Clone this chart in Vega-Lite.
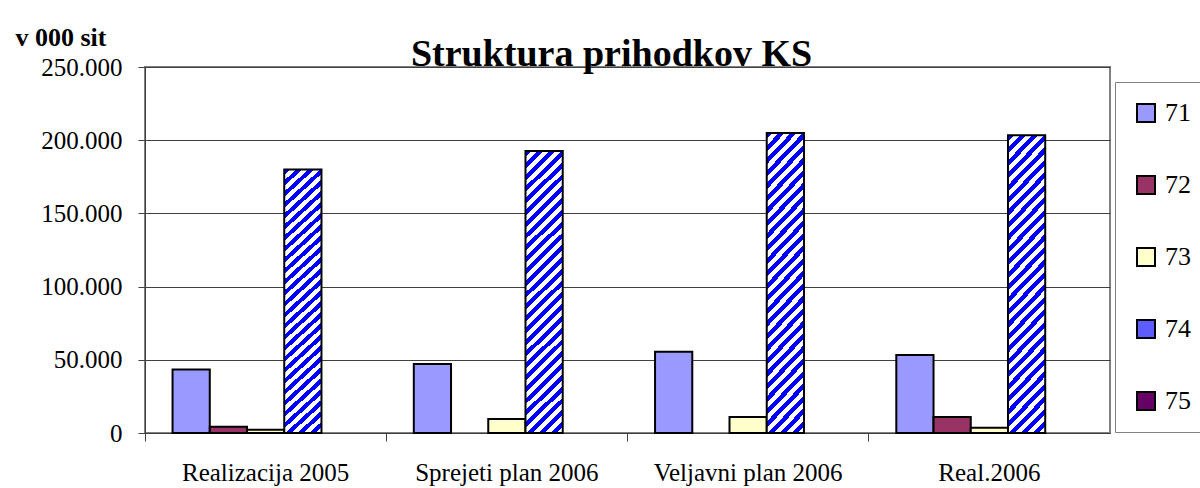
{
  "$schema": "https://vega.github.io/schema/vega-lite/v6.json",
  "width": 965,
  "height": 366,
  "autosize": {"type": "none"},
  "padding": {"left": 145, "top": 67, "right": 90, "bottom": 55},
  "background": "white",
  "title": {
    "text": "Struktura prihodkov KS",
    "font": "Liberation Serif",
    "fontSize": 38,
    "fontWeight": "bold",
    "color": "black",
    "anchor": "middle",
    "frame": "group",
    "baseline": "alphabetic",
    "offset": 0,
    "dx": -16,
    "dy": 80
  },
  "data": {
    "values": [
      {"kategorija": "Realizacija 2005", "konto": "71", "vrednost": 43300},
      {"kategorija": "Realizacija 2005", "konto": "72", "vrednost": 4300},
      {"kategorija": "Realizacija 2005", "konto": "73", "vrednost": 2200},
      {"kategorija": "Realizacija 2005", "konto": "74", "vrednost": 180000},
      {"kategorija": "Sprejeti plan 2006", "konto": "71", "vrednost": 47100},
      {"kategorija": "Sprejeti plan 2006", "konto": "73", "vrednost": 9600},
      {"kategorija": "Sprejeti plan 2006", "konto": "74", "vrednost": 192600},
      {"kategorija": "Veljavni plan 2006", "konto": "71", "vrednost": 55500},
      {"kategorija": "Veljavni plan 2006", "konto": "73", "vrednost": 10900},
      {"kategorija": "Veljavni plan 2006", "konto": "74", "vrednost": 204900},
      {"kategorija": "Real.2006", "konto": "71", "vrednost": 53300},
      {"kategorija": "Real.2006", "konto": "72", "vrednost": 10900},
      {"kategorija": "Real.2006", "konto": "73", "vrednost": 3600},
      {"kategorija": "Real.2006", "konto": "74", "vrednost": 203300}
    ]
  },
  "mark": {"type": "bar", "stroke": "black", "strokeWidth": 2},
  "encoding": {
    "x": {
      "field": "kategorija",
      "type": "nominal",
      "sort": ["Realizacija 2005", "Sprejeti plan 2006", "Veljavni plan 2006", "Real.2006"],
      "scale": {"paddingInner": 0, "paddingOuter": 0},
      "axis": {
        "title": null,
        "labelAngle": 0,
        "labelFont": "Liberation Serif",
        "labelFontSize": 25,
        "labelColor": "black",
        "labelPadding": 19,
        "labelLimit": 400,
        "tickSize": 8,
        "tickColor": "#404040",
        "domainColor": "#404040",
        "bandPosition": 0,
        "grid": false
      }
    },
    "xOffset": {
      "field": "konto",
      "type": "nominal",
      "scale": {"domain": ["71", "72", "73", "74", "75"], "paddingInner": 0, "paddingOuter": 0.74}
    },
    "y": {
      "field": "vrednost",
      "type": "quantitative",
      "scale": {"domain": [0, 250000], "nice": false},
      "axis": {
        "title": "v 000 sit",
        "titleAngle": 0,
        "titleAlign": "left",
        "titleBaseline": "alphabetic",
        "titleX": -130,
        "titleY": -22,
        "titleFont": "Liberation Serif",
        "titleFontSize": 26,
        "titleFontWeight": "bold",
        "titleColor": "black",
        "values": [0, 50000, 100000, 150000, 200000, 250000],
        "labelExpr": "replace(format(datum.value, ','), ',', '.')",
        "labelFont": "Liberation Serif",
        "labelFontSize": 25,
        "labelColor": "black",
        "labelPadding": 16,
        "tickSize": 7,
        "tickColor": "#404040",
        "domainColor": "#404040",
        "grid": true,
        "gridColor": "#404040",
        "gridWidth": 1
      }
    },
    "fill": {
      "field": "konto",
      "type": "nominal",
      "scale": {
        "domain": ["71", "72", "73", "74", "75"],
        "range": ["#9999FF", "#993366", "#FFFFCC", "#5C5CFF", "#660066"]
      },
      "condition": {
        "test": "datum.konto === '74'",
        "value": {
          "gradient": "linear",
          "x1": 0, "y1": 0, "x2": 0.144, "y2": 1.11,
          "stops": [
            {"offset": 0, "color": "#0000FF"}, {"offset": 0.0185, "color": "#0000FF"}, {"offset": 0.0185, "color": "#FFFFFF"}, {"offset": 0.0370, "color": "#FFFFFF"},
            {"offset": 0.0370, "color": "#0000FF"}, {"offset": 0.0556, "color": "#0000FF"}, {"offset": 0.0556, "color": "#FFFFFF"}, {"offset": 0.0741, "color": "#FFFFFF"},
            {"offset": 0.0741, "color": "#0000FF"}, {"offset": 0.0926, "color": "#0000FF"}, {"offset": 0.0926, "color": "#FFFFFF"}, {"offset": 0.1111, "color": "#FFFFFF"},
            {"offset": 0.1111, "color": "#0000FF"}, {"offset": 0.1296, "color": "#0000FF"}, {"offset": 0.1296, "color": "#FFFFFF"}, {"offset": 0.1481, "color": "#FFFFFF"},
            {"offset": 0.1481, "color": "#0000FF"}, {"offset": 0.1667, "color": "#0000FF"}, {"offset": 0.1667, "color": "#FFFFFF"}, {"offset": 0.1852, "color": "#FFFFFF"},
            {"offset": 0.1852, "color": "#0000FF"}, {"offset": 0.2037, "color": "#0000FF"}, {"offset": 0.2037, "color": "#FFFFFF"}, {"offset": 0.2222, "color": "#FFFFFF"},
            {"offset": 0.2222, "color": "#0000FF"}, {"offset": 0.2407, "color": "#0000FF"}, {"offset": 0.2407, "color": "#FFFFFF"}, {"offset": 0.2593, "color": "#FFFFFF"},
            {"offset": 0.2593, "color": "#0000FF"}, {"offset": 0.2778, "color": "#0000FF"}, {"offset": 0.2778, "color": "#FFFFFF"}, {"offset": 0.2963, "color": "#FFFFFF"},
            {"offset": 0.2963, "color": "#0000FF"}, {"offset": 0.3148, "color": "#0000FF"}, {"offset": 0.3148, "color": "#FFFFFF"}, {"offset": 0.3333, "color": "#FFFFFF"},
            {"offset": 0.3333, "color": "#0000FF"}, {"offset": 0.3519, "color": "#0000FF"}, {"offset": 0.3519, "color": "#FFFFFF"}, {"offset": 0.3704, "color": "#FFFFFF"},
            {"offset": 0.3704, "color": "#0000FF"}, {"offset": 0.3889, "color": "#0000FF"}, {"offset": 0.3889, "color": "#FFFFFF"}, {"offset": 0.4074, "color": "#FFFFFF"},
            {"offset": 0.4074, "color": "#0000FF"}, {"offset": 0.4259, "color": "#0000FF"}, {"offset": 0.4259, "color": "#FFFFFF"}, {"offset": 0.4444, "color": "#FFFFFF"},
            {"offset": 0.4444, "color": "#0000FF"}, {"offset": 0.4630, "color": "#0000FF"}, {"offset": 0.4630, "color": "#FFFFFF"}, {"offset": 0.4815, "color": "#FFFFFF"},
            {"offset": 0.4815, "color": "#0000FF"}, {"offset": 0.5000, "color": "#0000FF"}, {"offset": 0.5000, "color": "#FFFFFF"}, {"offset": 0.5185, "color": "#FFFFFF"},
            {"offset": 0.5185, "color": "#0000FF"}, {"offset": 0.5370, "color": "#0000FF"}, {"offset": 0.5370, "color": "#FFFFFF"}, {"offset": 0.5556, "color": "#FFFFFF"},
            {"offset": 0.5556, "color": "#0000FF"}, {"offset": 0.5741, "color": "#0000FF"}, {"offset": 0.5741, "color": "#FFFFFF"}, {"offset": 0.5926, "color": "#FFFFFF"},
            {"offset": 0.5926, "color": "#0000FF"}, {"offset": 0.6111, "color": "#0000FF"}, {"offset": 0.6111, "color": "#FFFFFF"}, {"offset": 0.6296, "color": "#FFFFFF"},
            {"offset": 0.6296, "color": "#0000FF"}, {"offset": 0.6481, "color": "#0000FF"}, {"offset": 0.6481, "color": "#FFFFFF"}, {"offset": 0.6667, "color": "#FFFFFF"},
            {"offset": 0.6667, "color": "#0000FF"}, {"offset": 0.6852, "color": "#0000FF"}, {"offset": 0.6852, "color": "#FFFFFF"}, {"offset": 0.7037, "color": "#FFFFFF"},
            {"offset": 0.7037, "color": "#0000FF"}, {"offset": 0.7222, "color": "#0000FF"}, {"offset": 0.7222, "color": "#FFFFFF"}, {"offset": 0.7407, "color": "#FFFFFF"},
            {"offset": 0.7407, "color": "#0000FF"}, {"offset": 0.7593, "color": "#0000FF"}, {"offset": 0.7593, "color": "#FFFFFF"}, {"offset": 0.7778, "color": "#FFFFFF"},
            {"offset": 0.7778, "color": "#0000FF"}, {"offset": 0.7963, "color": "#0000FF"}, {"offset": 0.7963, "color": "#FFFFFF"}, {"offset": 0.8148, "color": "#FFFFFF"},
            {"offset": 0.8148, "color": "#0000FF"}, {"offset": 0.8333, "color": "#0000FF"}, {"offset": 0.8333, "color": "#FFFFFF"}, {"offset": 0.8519, "color": "#FFFFFF"},
            {"offset": 0.8519, "color": "#0000FF"}, {"offset": 0.8704, "color": "#0000FF"}, {"offset": 0.8704, "color": "#FFFFFF"}, {"offset": 0.8889, "color": "#FFFFFF"},
            {"offset": 0.8889, "color": "#0000FF"}, {"offset": 0.9074, "color": "#0000FF"}, {"offset": 0.9074, "color": "#FFFFFF"}, {"offset": 0.9259, "color": "#FFFFFF"},
            {"offset": 0.9259, "color": "#0000FF"}, {"offset": 0.9444, "color": "#0000FF"}, {"offset": 0.9444, "color": "#FFFFFF"}, {"offset": 0.9630, "color": "#FFFFFF"},
            {"offset": 0.9630, "color": "#0000FF"}, {"offset": 0.9815, "color": "#0000FF"}, {"offset": 0.9815, "color": "#FFFFFF"}, {"offset": 1, "color": "#FFFFFF"}
          ]
        }
      },
      "legend": {
        "title": null,
        "orient": "none",
        "legendX": 970,
        "legendY": 15,
        "padding": 18,
        "strokeColor": "#808080",
        "symbolType": "square",
        "symbolSize": 324,
        "symbolStrokeColor": "black",
        "symbolStrokeWidth": 2,
        "symbolOpacity": 1,
        "labelFont": "Liberation Serif",
        "labelFontSize": 26,
        "labelColor": "black",
        "labelOffset": 6,
        "rowPadding": 46
      }
    }
  },
  "config": {
    "view": {"stroke": "#808080", "strokeWidth": 2},
    "font": "Liberation Serif"
  }
}
